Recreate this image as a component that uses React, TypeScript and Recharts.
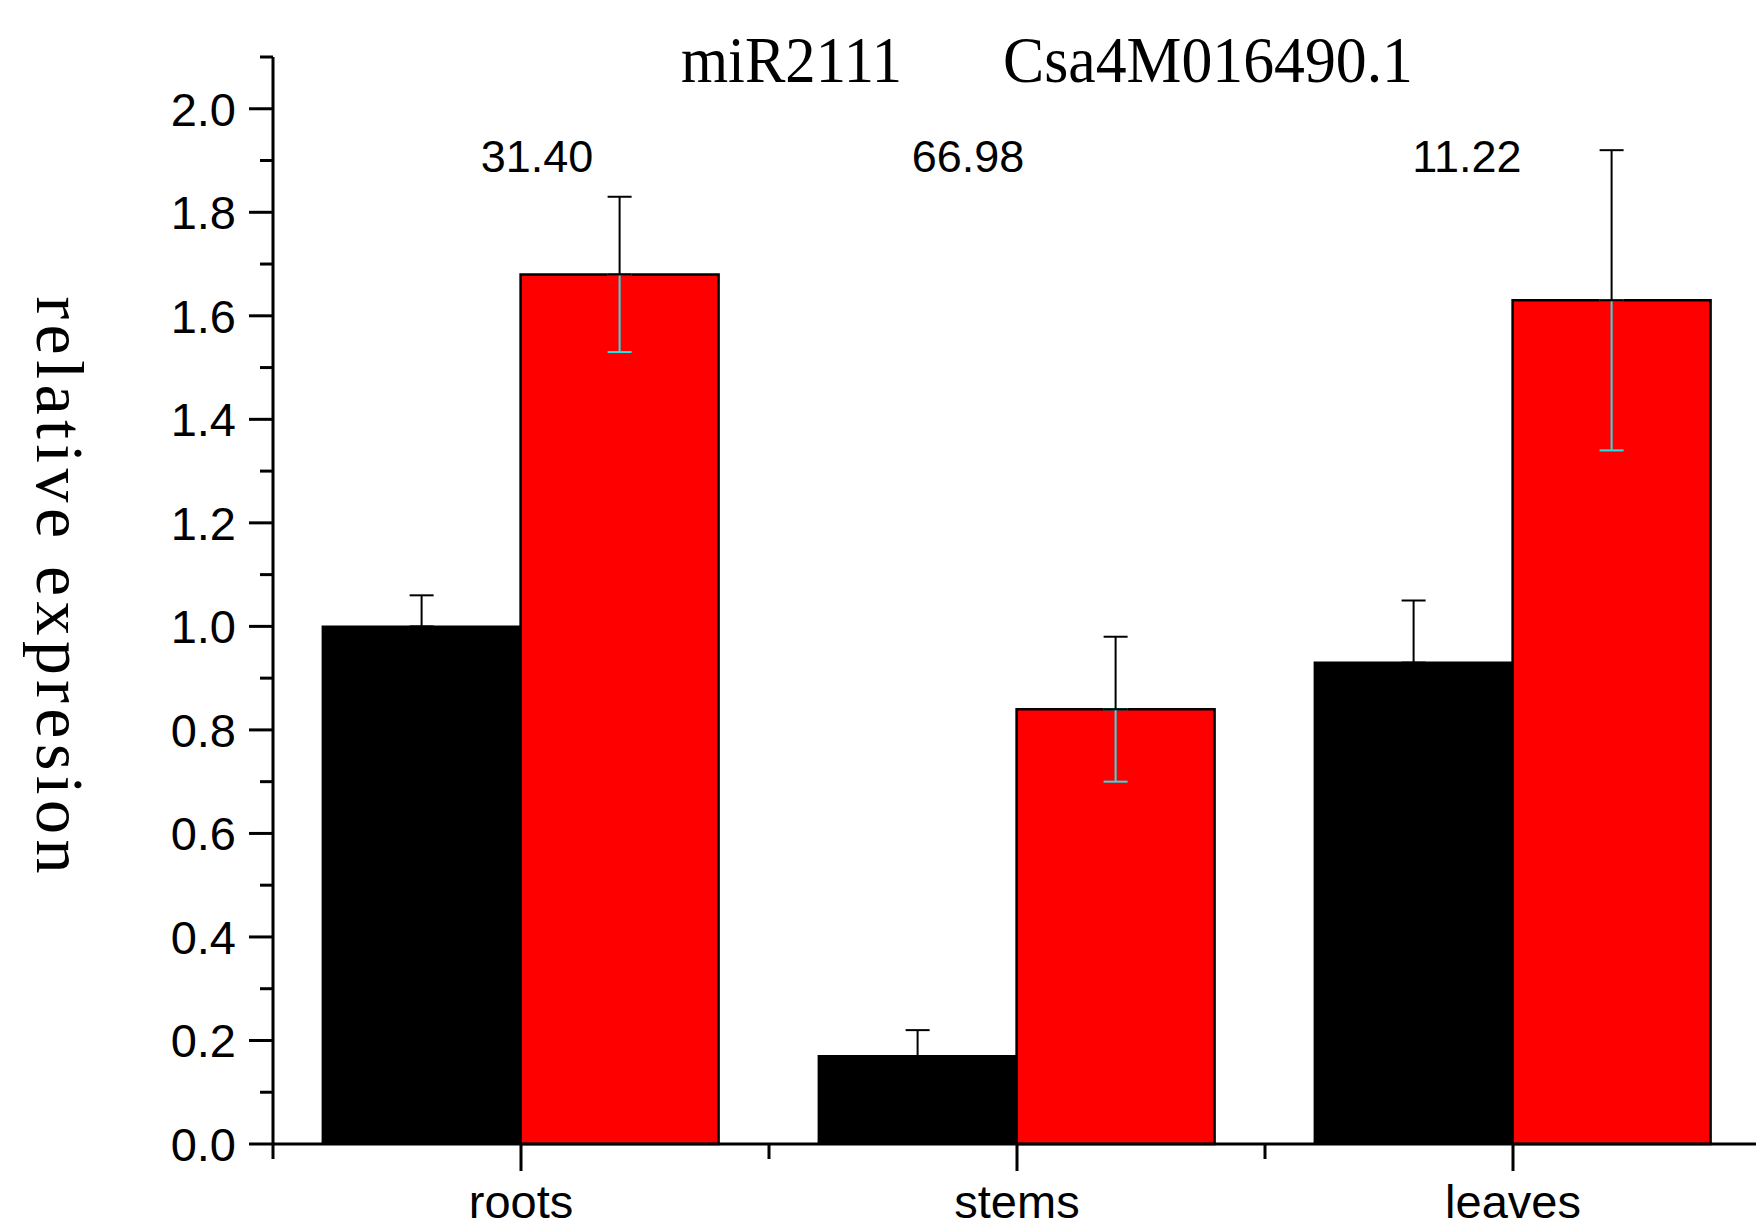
import React from 'react'
import { BarChart, Bar, XAxis, YAxis, ErrorBar, ReferenceDot } from 'recharts'

// tissue categories and the two series (black = miR2111, red = target gene)
const TISSUES = ['roots', 'stems', 'leaves']
const MIR = [1.0, 0.17, 0.93]
const MIR_ERR = [0.06, 0.05, 0.12]
const TARGET = [1.68, 0.84, 1.63]
const TARGET_ERR = [0.15, 0.14, 0.29]
// numbers printed over each tissue group
const NOTES = ['31.40', '66.98', '11.22']
const NOTE_Y = 1.91
const Y_TICKS = [0, 0.1, 0.2, 0.3, 0.4, 0.5, 0.6, 0.7, 0.8, 0.9, 1.0, 1.1, 1.2, 1.3, 1.4, 1.5, 1.6, 1.7, 1.8, 1.9, 2.0, 2.1]

const NOTE_DX = [16, -49, -46]

const data = TISSUES.map((t, i) => ({
  tissue: t,
  mir: MIR[i],
  mirUp: [0, MIR_ERR[i]],
  target: TARGET[i],
  targetUp: [0, TARGET_ERR[i]],
  targetDown: [TARGET_ERR[i], 0],
}))

const W = 1771
const H = 1227
const PLOT_LEFT = 273
const PLOT_RIGHT = 1761
const BAND = (PLOT_RIGHT - PLOT_LEFT) / TISSUES.length
const SANS = '"Liberation Sans", Arial, sans-serif'
const SERIF = '"Liberation Serif", "Times New Roman", serif'

function YTick(props: any) {
  const { x, y, payload } = props
  const major = Math.round(payload.value * 10) % 2 === 0
  return (
    <g>
      <line x1={x - (major ? 24 : 13)} x2={x} y1={y} y2={y} stroke="#000" strokeWidth={3} />
      {major && (
        <text x={x - 37} y={y} dy="0.36em" textAnchor="end" fontSize={47} fontFamily={SANS} fill="#000">
          {payload.value.toFixed(1)}
        </text>
      )}
    </g>
  )
}

function XTick(props: any) {
  const { x, y, payload } = props
  return (
    <g>
      <line x1={x - BAND / 2} x2={x - BAND / 2} y1={y} y2={y + 15} stroke="#000" strokeWidth={3} />
      <line x1={x} x2={x} y1={y} y2={y + 27} stroke="#000" strokeWidth={3} />
      <text x={x} y={y + 74} textAnchor="middle" fontSize={47} fontFamily={SANS} fill="#000">
        {payload.value}
      </text>
    </g>
  )
}

export default function App() {
  return (
    <div style={{ position: 'fixed', left: 0, top: 0, width: 1756, height: 1227, overflow: 'hidden', background: '#fff' }}>
      <BarChart
        width={W}
        height={H}
        data={data}
        margin={{ top: 57, right: W - PLOT_RIGHT, bottom: 0, left: 0 }}
        barCategoryGap="10%"
        barGap={0}
      >
        <XAxis
          dataKey="tissue"
          height={83}
          tickSize={0}
          tickMargin={0}
          tick={<XTick />}
          interval={0}
          axisLine={{ stroke: '#000', strokeWidth: 3 }}
          tickLine={false}
        />
        <YAxis
          width={PLOT_LEFT}
          domain={[0, 2.1]}
          ticks={Y_TICKS}
          interval={0}
          tickSize={0}
          tickMargin={0}
          tick={<YTick />}
          axisLine={{ stroke: '#000', strokeWidth: 3 }}
          tickLine={false}
        />
        <Bar dataKey="mir" fill="#000" stroke="#000" strokeWidth={2} isAnimationActive={false}>
          <ErrorBar dataKey="mirUp" width={12} stroke="#000" strokeWidth={2} direction="y" />
        </Bar>
        <Bar dataKey="target" fill="#ff0000" stroke="#000" strokeWidth={2.5} isAnimationActive={false}>
          <ErrorBar dataKey="targetDown" width={12} stroke="#22e4ea" strokeWidth={2} direction="y" />
          <ErrorBar dataKey="targetUp" width={12} stroke="#000" strokeWidth={2} direction="y" />
        </Bar>
        {TISSUES.map((t, i) => (
          <ReferenceDot
            key={t}
            x={t}
            y={NOTE_Y}
            r={0}
            fill="none"
            stroke="none"
            ifOverflow="visible"
            label={{
              position: 'center',
              content: (p: any) => {
                const vb = p.viewBox || {}
                const cx = (vb.x ?? 0) + (vb.width ?? 0) / 2 + NOTE_DX[i]
                const cy = (vb.y ?? 0) + (vb.height ?? 0) / 2
                return (
                  <text x={cx} y={cy} dy="0.36em" textAnchor="middle" fontSize={45} fontFamily={SANS} fill="#000">
                    {NOTES[i]}
                  </text>
                )
              },
            }}
          />
        ))}
      </BarChart>
      <svg width={1756} height={1227} style={{ position: 'absolute', left: 0, top: 0, pointerEvents: 'none' }}>
        <text y={82} fontSize={66} fontFamily={SERIF} fill="#000">
          <tspan x={681} textLength={221} lengthAdjust="spacingAndGlyphs">miR2111</tspan>
          <tspan x={1003} textLength={410} lengthAdjust="spacingAndGlyphs">Csa4M016490.1</tspan>
        </text>
        <text
          x={0}
          y={0}
          transform="translate(37 585) rotate(90)"
          textAnchor="middle"
          fontSize={68}
          fontFamily={SERIF}
          fill="#000"
          textLength={577}
          lengthAdjust="spacing"
        >
          relative expresion
        </text>
      </svg>
    </div>
  )
}
